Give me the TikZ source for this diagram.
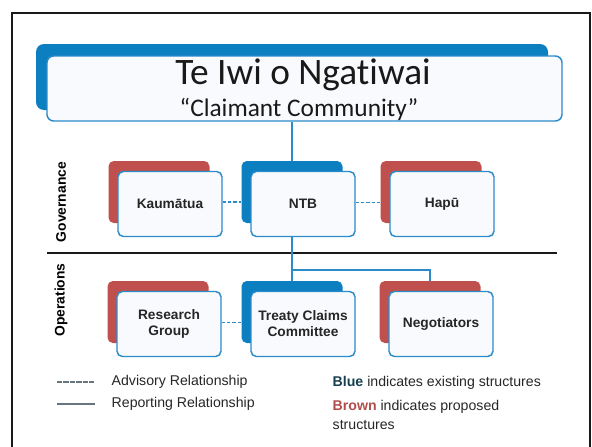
\documentclass[tikz,border=0pt]{standalone}
\usepackage{fontspec}
\setmainfont{Liberation Sans}
\newfontfamily\titlefont[Ligatures=NoCommon]{Carlito}
\usetikzlibrary{positioning, calc}
\definecolor{ngblue}{HTML}{0B7FC0}
\definecolor{lineblue}{HTML}{2B8BCB}
\definecolor{ngbrown}{HTML}{C0504D}
\definecolor{frontfill}{HTML}{F8FAFD}
\definecolor{bluetext}{HTML}{163F4F}
\definecolor{browntext}{HTML}{B04E4B}
\definecolor{keygrey}{HTML}{66767C}

\tikzset{
  backblue/.style={fill=ngblue, draw=none, rounded corners=4pt, minimum width=75.75pt, minimum height=46.5pt, inner sep=0pt},
  backbrown/.style={fill=ngbrown, draw=none, rounded corners=4pt, minimum width=75.75pt, minimum height=46.5pt, inner sep=0pt},
  frontbox/.style={fill=frontfill, draw=lineblue, line width=1.1pt, rounded corners=4pt, minimum width=78pt, minimum height=48.75pt, inner sep=0pt, align=center, font=\fontsize{10.3}{12}\selectfont\bfseries, text=black!85},
  sidelabel/.style={rotate=90, font=\fontsize{10.4}{12}\selectfont\bfseries},
  advisory/.style={lineblue, line width=1pt, dashed, dash pattern=on 2.5pt off 1.5pt},
  reporting/.style={lineblue, line width=1pt},
  keytext/.style={anchor=west, font=\fontsize{10.6}{14}\selectfont, text=black!85, align=left}
}

\begin{document}
\begin{tikzpicture}[x=0.75pt, y=-0.75pt]
  \useasboundingbox (0,0) rectangle (592,446);

  % Outer frame
  \draw[line width=2pt, black!90] (12,452) -- (12,13) -- (590,13) -- (590,452);

  % Title
  \node[fill=ngblue, rounded corners=6pt, minimum width=384pt, minimum height=49.5pt, inner sep=0pt] (titleb) at (292,77) {};
  \node[fill=frontfill, draw=lineblue, line width=1.1pt, rounded corners=5pt, minimum width=386.25pt, minimum height=48.75pt, inner sep=0pt] (title) at (304.5,88.5) {};
  \node[font=\titlefont\fontsize{28}{30}\selectfont, text=black!90] (tname) at (303,75) {Te Iwi o Ngatiwai};
  \node[font=\titlefont\fontsize{19}{21}\selectfont, text=black!90] (tsub) at (299,109) {“Claimant Community”};

  % Governance row
  \node[backbrown] (kaumb) at (159,192) {};
  \node[frontbox] (kaum) at (170,204) {Kaumātua};
  \node[backblue] (ntbb) at (292,192) {};
  \node[frontbox] (ntb) at (303,204) {NTB};
  \node[backbrown] (hapub) at (431,192) {};
  \node[frontbox] (hapu) at (442,204) {Hapū};

  % Operations row
  \node[backbrown] (resb) at (158,312) {};
  \node[frontbox] (res) at (169,324) {Research\\Group};
  \node[backblue] (tccb) at (292,312) {};
  \node[frontbox] (tcc) at (303,324) {Treaty Claims\\Committee};
  \node[backbrown] (negb) at (430,312) {};
  \node[frontbox] (neg) at (441,324) {Negotiators};

  % Side labels and divider
  \node[sidelabel] (gov) at (61,202) {Governance};
  \node[sidelabel] (ops) at (61,300) {Operations};
  \draw[line width=1.2pt, black!90] (47,253) -- (557,253);

  % Reporting lines
  \draw[reporting] (ntbb.north |- title.south) -- (ntbb.north);
  \coordinate (split) at ($(ntbb.north |- ntb.south)!0.75!(tccb.north)$);
  \draw[reporting] (ntbb.north |- ntb.south) -- (tccb.north);
  \draw[reporting] (split) -| (negb.north);

  % Advisory lines
  \draw[advisory] ([yshift=1.5pt]kaum.east) -- ([yshift=1.5pt]kaum.east -| ntbb.west);
  \draw[advisory] ([yshift=1pt]ntb.east) -- ([yshift=1pt]ntb.east -| hapub.west);
  \draw[advisory] ([yshift=1pt]res.east) -- ([yshift=1pt]res.east -| tccb.west);

  % Key
  \coordinate (adva) at (57,382);
  \coordinate (advb) at (95,382);
  \coordinate (repa) at (57,404);
  \coordinate (repb) at (95,404);
  \draw[keygrey, line width=1pt, dash pattern=on 4pt off 0.8pt] (adva) -- (advb);
  \draw[keygrey, line width=1.1pt] (repa) -- (repb);
  \node[keytext] (advtxt) at (107,382) {Advisory Relationship};
  \node[keytext] (reptxt) at (107,404) {Reporting Relationship};
  \node[keytext] (bluetxt) at (328,383) {{\color{bluetext}\bfseries Blue} indicates existing structures};
  \node[keytext, anchor=north west] (browntxt) at (328,396) {{\color{browntext}\bfseries Brown} indicates proposed\\structures};
\end{tikzpicture}
\end{document}
